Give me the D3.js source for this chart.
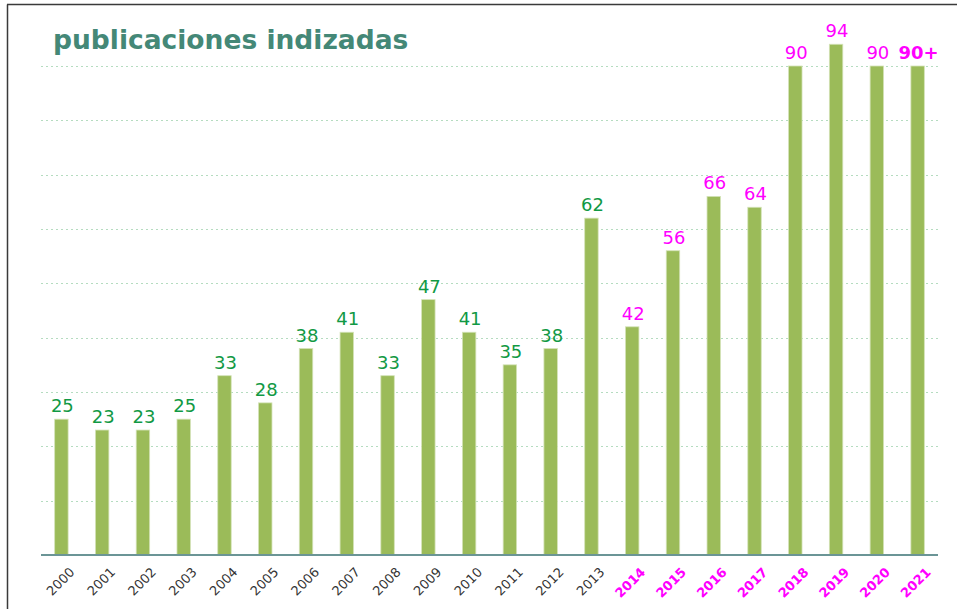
<!DOCTYPE html>
<html><head><meta charset="utf-8">
<script src="https://cdn.jsdelivr.net/npm/d3@7"></script>
<style>body{margin:0;background:#fff;}svg{display:block;font-family:"DejaVu Sans",sans-serif;}</style>
</head><body>
<svg id="c" width="957" height="609"></svg>
<script>
const years = ["2000","2001","2002","2003","2004","2005","2006","2007","2008","2009","2010","2011","2012","2013","2014","2015","2016","2017","2018","2019","2020","2021"];
const values = [25,23,23,25,33,28,38,41,33,47,41,35,38,62,42,56,66,64,90,94,90,90];
const valueLabels = ["25","23","23","25","33","28","38","41","33","47","41","35","38","62","42","56","66","64","90","94","90","90+"];
const gridTicks = [0,10,20,30,40,50,60,70,80,90];
const highlightFrom = 2014;

const svg = d3.select("#c");
const x = d3.scaleBand().domain(years).range([41, 938]).paddingInner(0.67).paddingOuter(0.335);
const y = d3.scaleLinear().domain([0, 90]).range([555, 66]);

// frame
svg.append("line").attr("x1",7.5).attr("x2",7.5).attr("y1",4.5).attr("y2",609).attr("stroke","#3a3a3a").attr("stroke-width",1.5);
svg.append("line").attr("x1",7).attr("x2",957).attr("y1",4.5).attr("y2",4.5).attr("stroke","#3a3a3a").attr("stroke-width",1.5);

// gridlines
svg.append("g").selectAll("line").data(gridTicks.filter(d=>d>0)).join("line")
  .attr("x1",41).attr("x2",938).attr("y1",d=>Math.round(y(d))+0.5).attr("y2",d=>Math.round(y(d))+0.5)
  .attr("stroke","#b5dcc0").attr("stroke-width",1).attr("stroke-dasharray","2,3");

// bars
svg.append("g").selectAll("rect").data(years).join("rect")
  .attr("x",d=>x(d)).attr("width",x.bandwidth())
  .attr("y",(d,i)=>y(values[i])).attr("height",(d,i)=>y(0)-y(values[i]))
  .attr("fill","#9bbb59").attr("stroke","#d4e3b8").attr("stroke-width",0.8);

// value labels
svg.append("g").selectAll("text").data(years).join("text")
  .attr("x",d=>x(d)+x.bandwidth()/2+1).attr("y",(d,i)=>y(values[i])-7)
  .attr("text-anchor","middle").attr("font-size",18)
  .attr("fill",d=>+d>=highlightFrom?"#ff00ff":"#119944")
  .attr("font-weight",(d,i)=>valueLabels[i].includes("+")?"bold":"normal")
  .text((d,i)=>valueLabels[i]);

// x axis
const xAxis = d3.axisBottom(x).tickSize(0).tickPadding(0);
const gx = svg.append("g").attr("transform","translate(0,555)").call(xAxis);
gx.select(".domain").attr("stroke","#6b9596").attr("stroke-width",2).attr("d","M41,0H938");
gx.selectAll("text")
  .attr("font-family","DejaVu Sans, sans-serif").attr("font-size",13)
  .attr("fill",d=>+d>=highlightFrom?"#ff00ff":"#333")
  .attr("font-weight",d=>+d>=highlightFrom?"bold":"normal")
  .attr("text-anchor","end").attr("dy",0).attr("y",0)
  .attr("transform","translate(14,18) rotate(-45)");

// title
svg.append("text").attr("x",53).attr("y",49).attr("font-size",26.5).attr("font-weight","bold")
  .attr("fill","#448877").text("publicaciones indizadas");
</script>
</body></html>
